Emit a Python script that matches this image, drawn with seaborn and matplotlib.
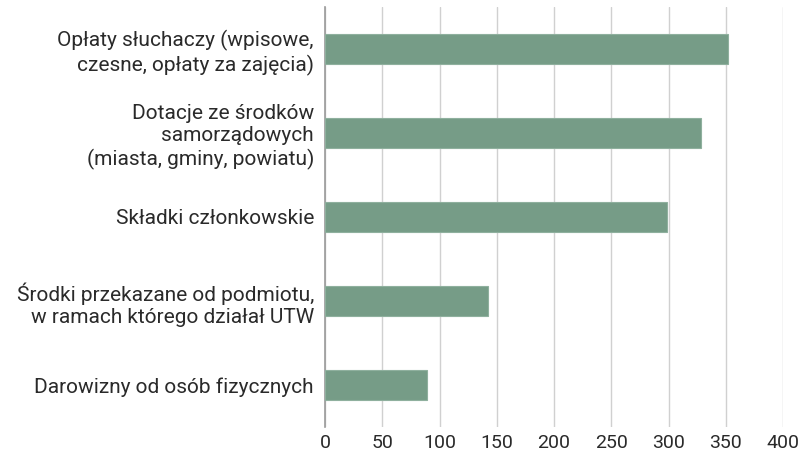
import pandas as pd
import matplotlib
matplotlib.use("Agg")
import matplotlib.pyplot as plt
import seaborn as sns

# INPUT VALUES
categories = [
    "Opłaty słuchaczy (wpisowe,\nczesne, opłaty za zajęcia)",
    "Dotacje ze środków\nsamorządowych\n(miasta, gminy, powiatu)",
    "Składki członkowskie",
    "Środki przekazane od podmiotu,\nw ramach którego działał UTW",
    "Darowizny od osób fizycznych",
]
values = [352, 328, 299, 142, 89]
xticks = [0, 50, 100, 150, 200, 250, 300, 350, 400]

data = pd.DataFrame({"source": categories, "count": values})

sns.set_style("white")
plt.rcParams["font.family"] = ["Roboto", "DejaVu Sans"]

fig = plt.figure(figsize=(8.02, 4.59), dpi=100)
ax = fig.add_axes([325 / 802, 1 - 427 / 459, 458 / 802, 420 / 459])

sns.barplot(data=data, x="count", y="source", color="#769c87", width=0.36,
            saturation=1, edgecolor="#8fb09e", linewidth=0.8, ax=ax, zorder=3)

ax.set_xlim(0, 400)
ax.set_ylim(4.5, -0.5)
ax.set_xticks(xticks)
ax.set_xticklabels([str(t) for t in xticks], fontsize=14, color="#2a2a2a")
ax.tick_params(axis="y", labelsize=15, labelcolor="#2a2a2a", length=0, pad=8)
ax.tick_params(axis="x", length=0, pad=5)
ax.xaxis.grid(True, color="#d0d0d0", linewidth=1.0, zorder=0)
ax.set_xlabel("")
ax.set_ylabel("")
for s in ["top", "right", "bottom"]:
    ax.spines[s].set_visible(False)
ax.spines["left"].set_color("#9a9a9a")
ax.spines["left"].set_linewidth(1.2)
for lbl in ax.get_yticklabels():
    lbl.set_horizontalalignment("right")
    lbl.set_multialignment("right")
    lbl.set_linespacing(1.2)

fig.savefig("out.png", dpi=100)
